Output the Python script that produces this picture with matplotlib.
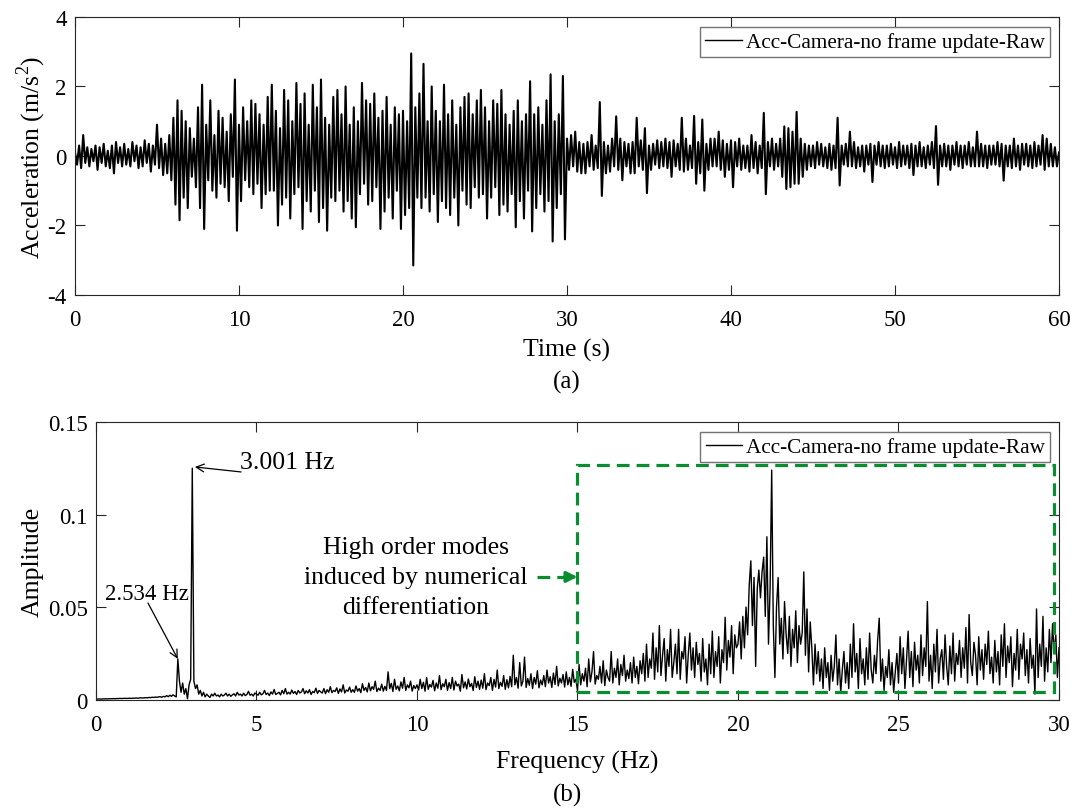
import numpy as np
import matplotlib
matplotlib.use("Agg")
import matplotlib.pyplot as plt
from matplotlib.patches import Rectangle
from matplotlib.ticker import FormatStrFormatter

plt.rcParams['font.family'] = ['Liberation Serif', 'DejaVu Serif']
plt.rcParams['mathtext.fontset'] = 'custom'
plt.rcParams['mathtext.rm'] = 'Liberation Serif'
plt.rcParams['axes.unicode_minus'] = False

# ---- data ----
label = "Acc-Camera-no frame update-Raw"

# (a) acceleration, 8 samples per second, m/s^2
acc_rate = 8
acc = [
    0.1, -0.25, 0.3, -0.35, 0.6, -0.2, 0.25, -0.3,
    0.2, -0.15, 0.3, -0.4, 0.25, -0.2, 0.35, -0.3,
    0.15, -0.35, 0.3, -0.5, 0.4, -0.2, 0.25, -0.3,
    0.35, -0.25, 0.2, -0.3, 0.4, -0.15, 0.3, -0.35,
    0.25, -0.3, 0.45, -0.2, 0.35, -0.45, 0.3, -0.25,
    0.9, -0.35, 0.5, -0.55, 0.35, -0.5, 0.6, -0.7,
    1.1, -1.4, 1.6, -1.85, 1.3, -1.2, 1.0, -1.5,
    0.8, -0.6, 0.5, -0.9, 1.4, -1.5, 2.05, -2.1,
    0.9, -0.7, 1.6, -1.0, 0.6, -1.2, 1.3, -0.8,
    1.1, -0.9, 0.7, -1.3, 1.2, -0.6, 2.2, -2.15,
    0.9, -1.3, 1.4, -0.7, 1.0, -0.9, 1.6, -1.1,
    1.5, -0.8, 1.2, -1.5, 0.9, -1.1, 1.7, -1.0,
    2.05, -1.0, 1.3, -2.0, 0.8, -1.4, 1.9, -1.2,
    1.6, -1.8, 1.0, -1.1, 2.1, -0.9, 1.5, -2.1,
    1.8, -1.3, 0.9, -1.6, 2.05, -1.0, 1.4, -1.9,
    2.2, -1.5, 1.1, -2.15, 0.9, -1.2, 1.7, -1.3,
    1.9, -1.0, 1.2, -1.6, 2.0, -1.3, 0.9, -1.8,
    1.4, -2.05, 1.0, -1.1, 2.1, -0.8, 1.6, -1.4,
    1.5, -1.3, 1.8, -0.9, 1.1, -2.1, 1.3, -1.6,
    1.7, -1.2, 0.9, -1.8, 1.4, -1.0, 1.2, -2.1,
    1.3, -1.7, 1.0, -1.5, 2.95, -3.15, 1.4, -1.2,
    1.8, -1.5, 2.65, -1.2, 1.0, -1.6, 2.0, -1.1,
    1.3, -1.9, 1.0, -1.3, 2.05, -1.5, 1.2, -1.7,
    1.6, -1.2, 0.9, -2.0, 1.4, -1.0, 1.7, -1.4,
    1.8, -1.5, 1.2, -0.9, 1.6, -1.2, 1.9, -1.1,
    1.4, -1.8, 1.0, -1.2, 1.6, -0.9, 1.5, -1.7,
    1.9, -1.4, 1.2, -1.6, 0.9, -1.1, 1.3, -2.05,
    1.6, -1.3, 1.0, -1.8, 1.2, -1.0, 2.15, -2.17,
    1.2, -1.5, 1.4, -1.1, 0.9, -1.6, 1.6, -1.3,
    2.35, -2.46, 1.0, -1.5, 1.2, -1.1, 2.3, -2.4,
    0.5, -0.4, 0.6, -0.3, 0.7, -0.45, 0.4, -0.5,
    0.35, -0.5, 0.4, -0.3, 0.6, -0.4, 0.3, -0.35,
    1.55, -1.15, 0.4, -0.5, 0.3, -0.45, 0.5, -0.3,
    1.14, -0.4, 0.5, -0.7, 0.4, -0.3, 0.35, -0.5,
    0.4, -0.5, 1.1, -0.3, 0.45, -0.4, 0.8, -1.07,
    0.3, -0.4, 0.35, -0.25, 0.45, -0.35, 0.4, -0.3,
    0.5, -0.35, 0.4, -0.6, 0.45, -0.3, 0.35, -0.4,
    1.1, -0.45, 0.5, -0.4, 0.3, -0.35, 1.15, -0.8,
    0.4, -0.5, 1.05, -1.0, 0.35, -0.4, 0.5, -0.3,
    0.5, -0.3, 0.7, -0.4, 0.45, -0.6, 0.35, -0.4,
    0.45, -0.9, 0.4, -0.3, 0.5, -0.4, 0.3, -0.35,
    0.3, -0.45, 0.6, -0.35, 0.4, -0.5, 0.3, -0.35,
    1.24, -1.1, 0.4, -0.3, 0.5, -0.4, 0.35, -0.3,
    0.5, -0.6, 0.85, -0.95, 0.8, -0.9, 0.7, -0.8,
    1.27, -0.8, 0.5, -0.6, 0.35, -0.4, 0.3, -0.3,
    0.3, -0.35, 0.4, -0.25, 0.35, -0.3, 0.25, -0.35,
    0.35, -0.4, 0.3, -0.35, 1.1, -0.85, 0.3, -0.25,
    0.35, -0.3, 0.7, -0.3, 0.4, -0.35, 0.25, -0.3,
    0.3, -0.45, 0.3, -0.25, 0.35, -0.75, 0.3, -0.25,
    0.4, -0.3, 0.3, -0.35, 0.3, -0.3, 0.35, -0.25,
    0.25, -0.35, 0.4, -0.3, 0.3, -0.25, 0.3, -0.35,
    0.35, -0.55, 0.3, -0.3, 0.4, -0.3, 0.25, -0.35,
    0.3, -0.25, 0.4, -0.35, 0.86, -0.83, 0.3, -0.3,
    0.35, -0.3, 0.3, -0.4, 0.3, -0.25, 0.4, -0.3,
    0.3, -0.35, 0.3, -0.25, 0.4, -0.3, 0.25, -0.3,
    0.7, -0.3, 0.35, -0.3, 0.3, -0.35, 0.3, -0.25,
    0.3, -0.25, 0.4, -0.3, 0.35, -0.71, 0.3, -0.3,
    0.3, -0.35, 0.5, -0.3, 0.3, -0.4, 0.35, -0.25,
    0.35, -0.3, 0.3, -0.35, 0.4, -0.3, 0.3, -0.25,
    0.6, -0.4, 0.5, -0.3, 0.35, -0.3, 0.25, -0.3,
    0.1,
]

# (b) amplitude spectrum, 0.05 Hz bins, values in 1e-3
spec_df = 0.05
spec_milli = [
    0.3, 0.3, 0.4, 0.3, 0.4, 0.4, 0.5, 0.4, 0.5, 0.5, 0.5, 0.6, 0.5, 0.6, 0.6, 0.7, 0.6, 0.7, 0.7, 0.7,
    0.7, 0.8, 0.7, 0.8, 0.8, 0.9, 0.8, 0.9, 1.0, 0.9, 1.0, 1.1, 1.0, 1.2, 1.1, 1.3, 1.2, 1.4, 1.3, 1.5,
    1.6, 1.3, 1.8, 1.5, 2.2, 1.6, 2.4, 1.8, 2.6, 2.0, 1.5, 22, 10, 4, 9, 3, 6, 0.5, 8, 11,
    125, 10, 6, 8, 3, 5, 2, 4, 1.5, 3, 2, 1.2, 3, 2, 3.5, 2, 2.5, 1.5, 3, 2,
    2.5, 3.5, 2, 3, 1.8, 2.6, 3.2, 2, 4, 2.5, 3, 2, 3.5, 2.2, 2.8, 4.5, 2.4, 3, 2, 3.6,
    3, 2.4, 4, 2.6, 3.2, 5, 2.8, 3.6, 2.2, 4.2, 3, 5.5, 2.8, 3.4, 4, 2.6, 5, 3.2, 6, 3,
    4, 3, 5.2, 3.4, 4.4, 2.8, 5, 3.6, 4.2, 6, 3.2, 4.8, 3.6, 5.4, 2.8, 4.4, 3.8, 6.2, 3.4, 5,
    4.2, 3.6, 6, 3.2, 5.4, 4, 7, 3.8, 5, 4.4, 6.4, 3.4, 5.8, 4.2, 8, 3.6, 5.2, 4.6, 6.8, 4,
    5.4, 4, 7.4, 4.6, 6, 3.8, 8.6, 5, 6.6, 4.2, 9, 4.8, 7, 5.6, 10, 4.4, 6.2, 5, 8.4, 4.6,
    7.2, 5, 15, 6, 8.8, 4.4, 11, 5.6, 7.4, 4.8, 9.6, 6.2, 12, 5, 8, 6.4, 10, 4.6, 7.6, 6,
    8, 5.2, 11, 6, 9.4, 4.6, 12, 5.6, 8.2, 6.8, 10.4, 4.8, 9, 6.2, 13, 5.4, 8.6, 7, 11, 5,
    9.2, 6, 12, 5.2, 10, 7.4, 8.4, 4.6, 13.6, 6.4, 9.6, 5.8, 11.2, 7, 8.8, 5, 12.4, 6.6, 10, 5.6,
    10.6, 6.2, 14, 5.4, 9, 7.6, 12, 5, 11, 6.8, 16, 6, 9.4, 7.2, 13, 5.6, 10.8, 6.4, 12.6, 7,
    24, 8, 12, 6.2, 20, 7.4, 10, 23, 6.6, 11.4, 7.8, 14, 6, 12, 8.4, 15.6, 6.4, 10.6, 8, 13,
    7, 16, 9, 12.4, 6.6, 14.4, 8.2, 18, 7.4, 11.6, 9, 13.6, 6.8, 15, 8, 12, 7.2, 16.4, 9.4, 11,
    5, 19, 8, 14, 10, 17, 7, 22, 9.6, 15, 26, 8.4, 13, 11, 18, 9, 21, 7.6, 16, 12,
    10, 26, 9, 17, 12, 22, 8, 19, 13, 24, 10, 16, 11.4, 20, 9, 23, 12, 18, 8.6, 21,
    14, 25, 10, 30, 12, 22, 17, 36, 11, 28, 15, 40, 13, 24, 33, 10, 27, 18, 38, 12,
    20, 30, 14, 38, 11, 26, 22, 34, 9, 24, 36, 16, 28, 12, 31, 19, 25, 10, 33, 15,
    22, 8, 30, 14, 37, 12, 26, 18, 34, 9, 27, 20, 44.5, 16, 32, 23, 40, 14, 35, 28,
    30, 42, 22, 45, 28, 50, 35, 62, 75, 40, 66, 18, 60, 70, 55, 69, 77, 45, 88, 30,
    60, 124, 40, 12, 50, 66, 30, 44, 22, 53, 35, 25, 45, 18, 38, 28, 48, 20, 40, 30,
    36, 69, 24, 49, 15, 42, 28, 8, 30, 14, 26, 10, 22, 6, 28, 12, 20, 5, 24, 10,
    18, 35, 8, 22, 4, 16, 26, 9, 20, 6, 30, 12, 41, 15, 25, 6, 33, 14, 22, 8,
    28, 11, 36, 16, 9, 24, 14, 32, 44, 10, 22, 5, 18, 12, 27, 8, 20, 4, 15, 25,
    9, 34, 14, 28, 6, 22, 37, 12, 26, 7, 31, 16, 24, 9, 35, 13, 28, 18, 53, 10,
    24, 6, 30, 15, 38, 9, 22, 27, 11, 35, 18, 8, 29, 14, 36, 10, 25, 19, 32, 12,
    28, 17, 39, 9, 46, 20, 13, 31, 24, 8, 34, 16, 27, 11, 30, 19, 37, 14, 23, 9,
    32, 15, 26, 8, 35, 18, 41, 12, 29, 20, 34, 7, 25, 16, 38, 11, 30, 22, 36, 13,
    27, 9, 33, 17, 24, 3, 49, 12, 30, 18, 45, 10, 28, 15, 38, 20, 41, 25, 35, 12,
    28,
]

assert len(acc) == 481, len(acc)
assert len(spec_milli) == 601, len(spec_milli)

t = np.arange(len(acc)) / acc_rate
freq = np.arange(len(spec_milli)) * spec_df
amp = np.array(spec_milli) / 1000.0

green = '#0a8c30'
spine_col = '#262626'

fig = plt.figure(figsize=(10.76, 8.12), dpi=100)
ax1 = fig.add_axes([0.0697, 0.6355, 0.9145, 0.3424])
ax2 = fig.add_axes([0.0892, 0.1371, 0.8950, 0.3420])

# ---- (a) time history ----
ax1.plot(t, acc, color='k', lw=1.5, label=label)
ax1.set_xlim(0, 60)
ax1.set_ylim(-4, 4)
ax1.set_xticks(range(0, 61, 10))
ax1.set_yticks([-4, -2, 0, 2, 4])
ax1.set_xlabel('Time (s)', fontsize=18.5)
ax1.set_ylabel(r'Acceleration (m/s$^{2}$)', fontsize=18.5)
ax1.xaxis.set_label_coords(0.5, -0.155)
ax1.yaxis.set_label_coords(-0.027, 0.5)

# ---- (b) spectrum ----
ax2.plot(freq, amp, color='k', lw=1.0, label=label)
ax2.set_xlim(0, 30)
ax2.set_ylim(0, 0.15)
ax2.set_xticks(range(0, 31, 5))
ax2.set_yticks([0, 0.05, 0.1, 0.15])
ax2.yaxis.set_major_formatter(FormatStrFormatter('%g'))
ax2.set_xlabel('Frequency (Hz)', fontsize=18.5)
ax2.set_ylabel('Amplitude', fontsize=18.5)
ax2.xaxis.set_label_coords(0.5, -0.182)
ax2.yaxis.set_label_coords(-0.054, 0.5)

for ax in (ax1, ax2):
    ax.tick_params(direction='in', top=True, right=True, length=7, width=0.8,
                   labelsize=16.5, color=spine_col)
    ax.tick_params(axis='x', pad=10)
    ax.tick_params(axis='y', pad=6)
    for s in ax.spines.values():
        s.set_linewidth(0.8)
        s.set_color(spine_col)

for ax in (ax1, ax2):
    leg = ax.legend(loc='upper right', bbox_to_anchor=(0.991, 0.964), borderaxespad=0,
                    fancybox=False, edgecolor='0.45', framealpha=1, fontsize=15.3,
                    handlelength=1.7, handletextpad=0.2, borderpad=0.25)
    leg.get_frame().set_linewidth(1.0)
    leg.get_lines()[0].set_linewidth(1.0)

# peak annotations
arrow_k = dict(arrowstyle='->', color='k', lw=0.9, mutation_scale=14, shrinkA=0, shrinkB=0)
ax2.annotate('', xy=(3.08, 0.1257), xytext=(4.52, 0.123), arrowprops=arrow_k)
ax2.text(4.49, 0.1285, '3.001 Hz', fontsize=18.5, va='center', ha='left')
ax2.annotate('', xy=(2.55, 0.022), xytext=(1.62, 0.0522), arrowprops=arrow_k)
ax2.text(0.28, 0.0576, '2.534 Hz', fontsize=16.5, va='center', ha='left')

# high-order mode region
rect = Rectangle((15.0, 0.0043), 14.85, 0.1225, fill=False, ec=green, lw=2.3,
                 ls=(0, (4, 2.2)), zorder=4)
ax2.add_patch(rect)
ax2.plot([13.74, 14.72], [0.0663, 0.0663], color=green, lw=2.3, ls=(0, (4, 2.2)), zorder=4)
ax2.annotate('', xy=(15.0, 0.0663), xytext=(14.6, 0.0663),
             arrowprops=dict(arrowstyle='-|>', color=green, lw=2.3, mutation_scale=16,
                             shrinkA=0, shrinkB=0), zorder=4)
ax2.text(9.97, 0.0663, 'High order modes\ninduced by numerical\ndifferentiation',
         fontsize=18.5, ha='center', va='center', linespacing=1.45)

fig.text(0.527, 0.5296, '(a)', fontsize=18, ha='center', va='center')
fig.text(0.527, 0.0209, '(b)', fontsize=18, ha='center', va='center')

fig.savefig('out.png', dpi=100)
